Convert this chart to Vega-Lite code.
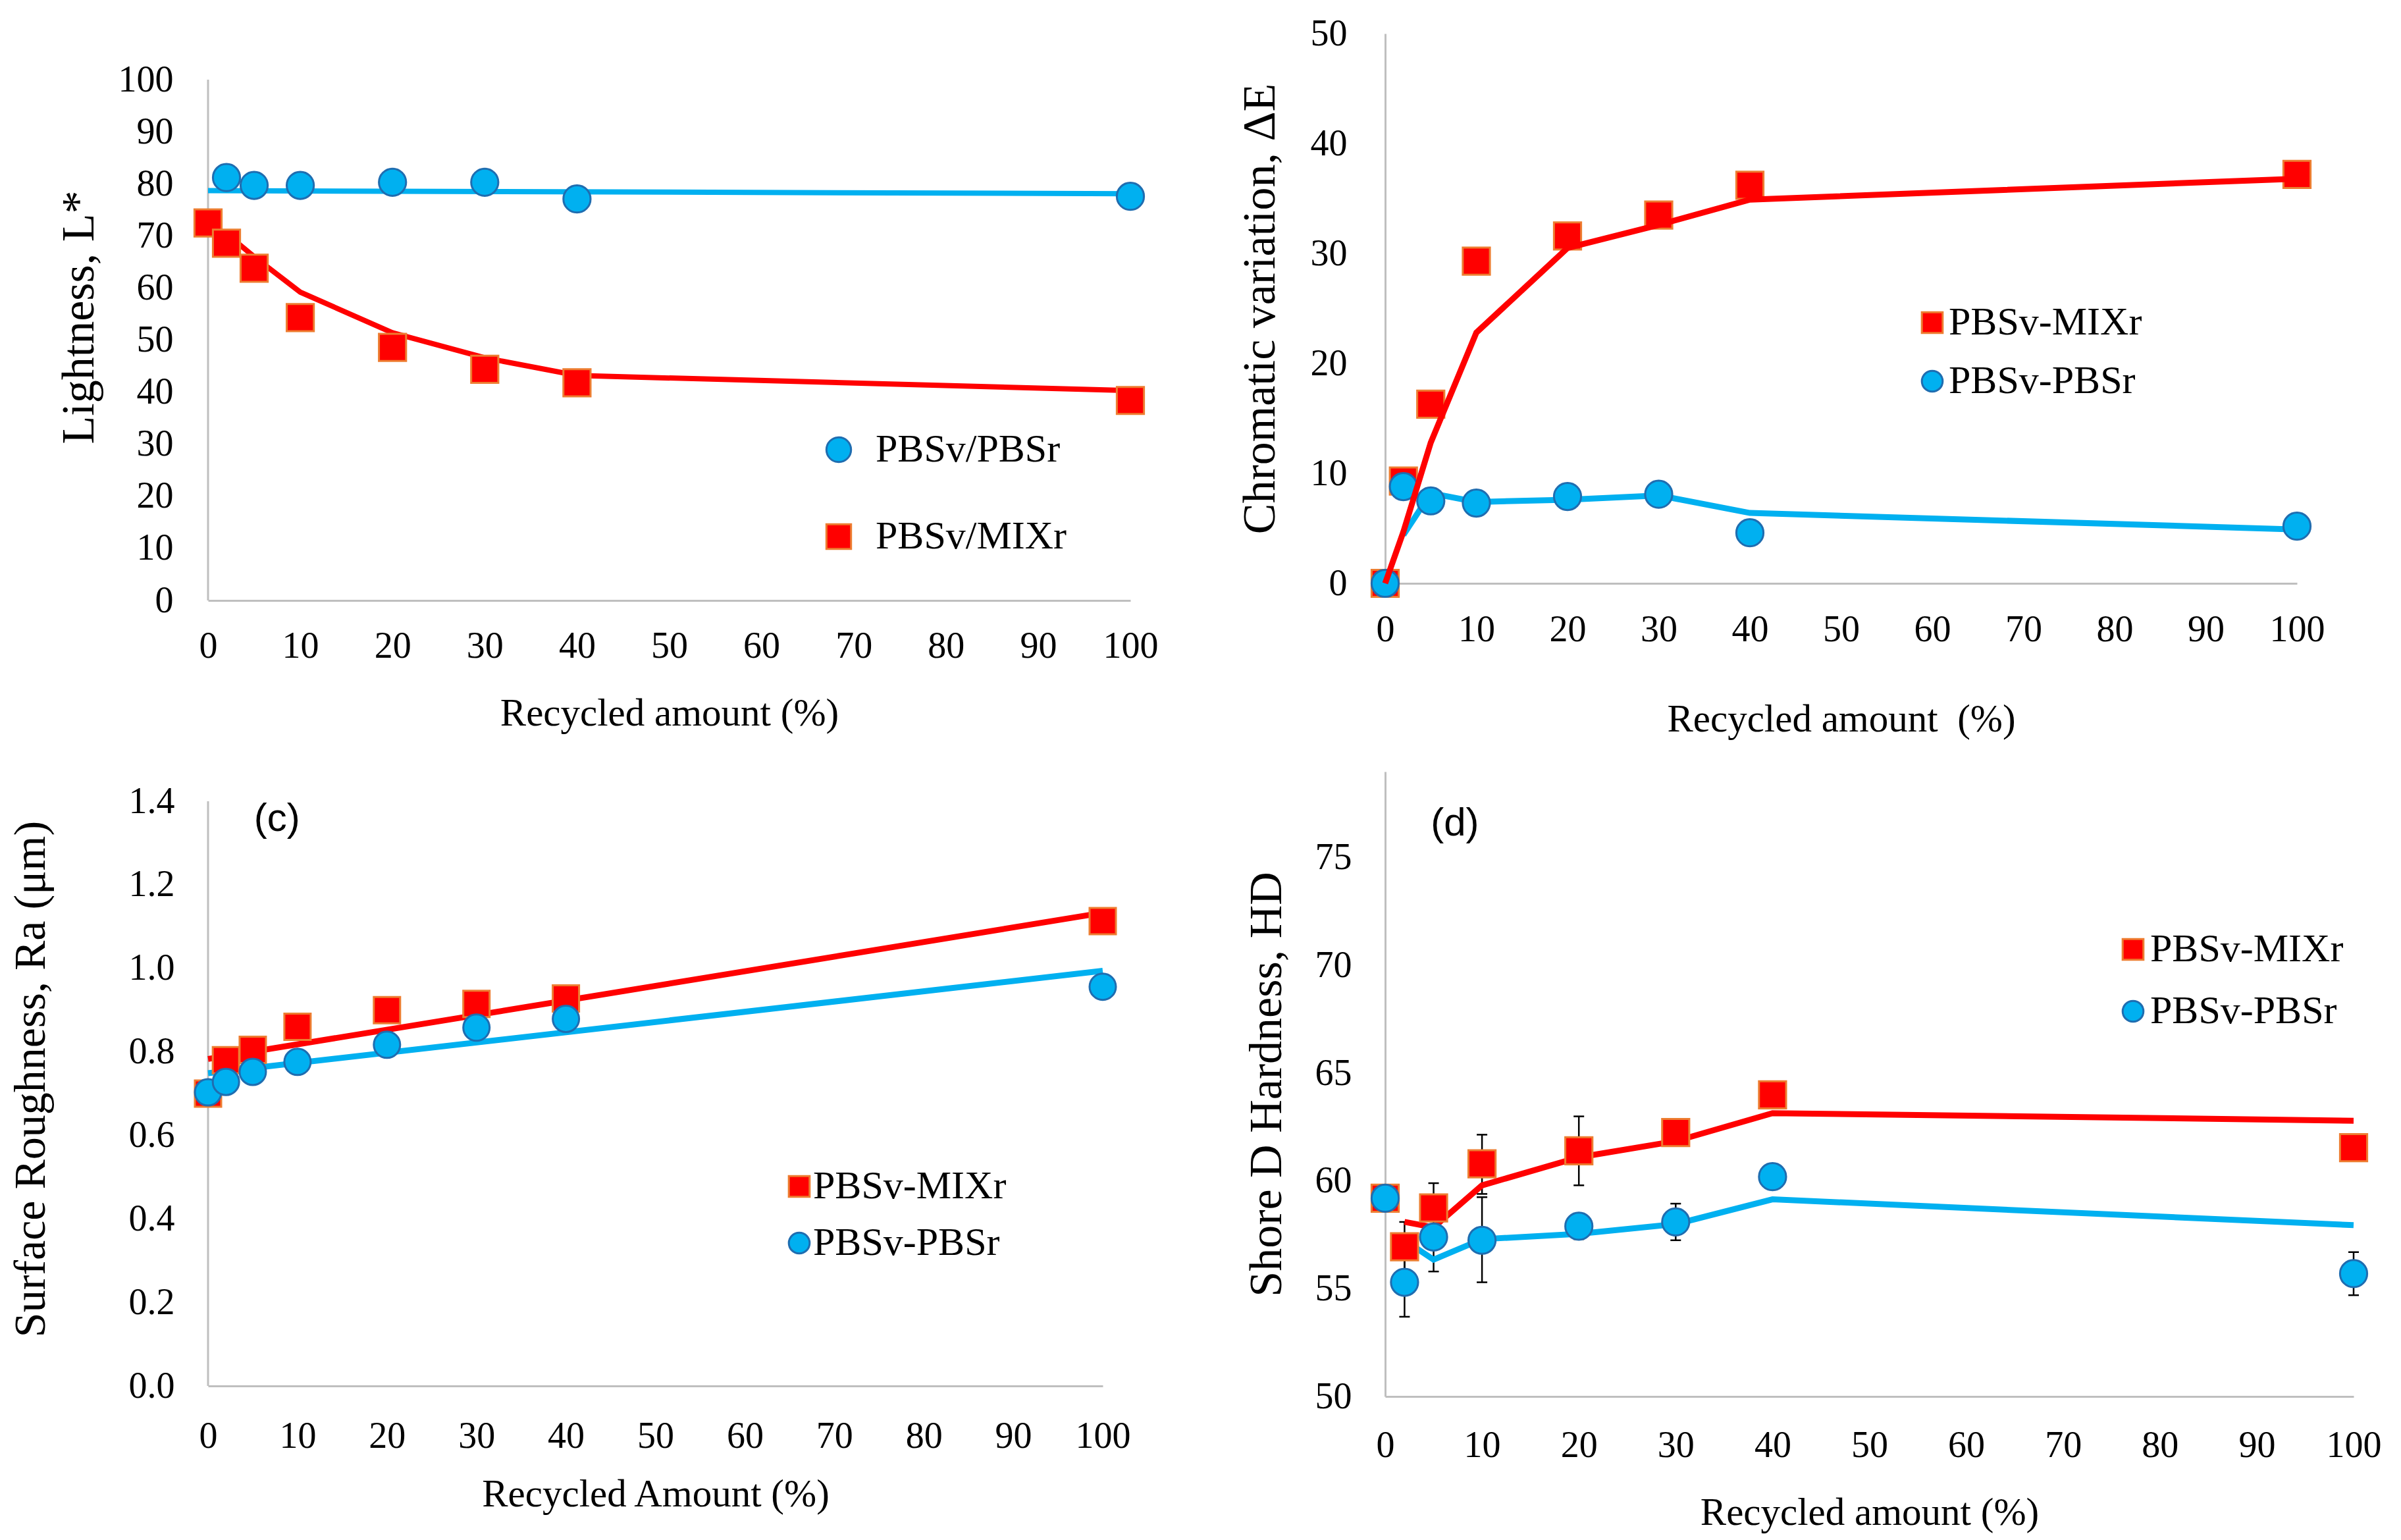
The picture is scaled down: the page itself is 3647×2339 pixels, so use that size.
{
  "$schema": "https://vega.github.io/schema/vega-lite/v6.json",
  "autosize": {"type": "none"},
  "padding": {"left": 316, "top": 51, "right": 3331, "bottom": 2288},
  "background": "white",
  "config": {
    "view": {"stroke": null},
    "axis": {
      "labelFont": "Liberation Serif", "labelFontSize": 56, "labelColor": "black",
      "titleFont": "Liberation Serif", "titleFontWeight": "normal", "titleColor": "black",
      "ticks": false, "grid": false, "domainColor": "#BFBFBF", "domainWidth": 3,
      "labelOverlap": false, "labelFlush": false
    },
    "legend": {
      "labelFont": "Liberation Serif", "labelFontSize": 60, "labelColor": "black",
      "symbolStrokeWidth": 3, "padding": 0, "labelLimit": 600, "symbolOpacity": 1
    }
  },
  "datasets": {
    "a_axis": [{"x": 0, "y": 0, "y2": 100}],
    "a_pts": [
      {"x": 0, "y": 72.5, "series": "PBSv/MIXr"},
      {"x": 2, "y": 68.6, "series": "PBSv/MIXr"},
      {"x": 5, "y": 63.8, "series": "PBSv/MIXr"},
      {"x": 10, "y": 54.3, "series": "PBSv/MIXr"},
      {"x": 20, "y": 48.6, "series": "PBSv/MIXr"},
      {"x": 30, "y": 44.4, "series": "PBSv/MIXr"},
      {"x": 40, "y": 41.8, "series": "PBSv/MIXr"},
      {"x": 100, "y": 38.4, "series": "PBSv/MIXr"},
      {"x": 2, "y": 81.2, "series": "PBSv/PBSr"},
      {"x": 5, "y": 79.7, "series": "PBSv/PBSr"},
      {"x": 10, "y": 79.7, "series": "PBSv/PBSr"},
      {"x": 20, "y": 80.3, "series": "PBSv/PBSr"},
      {"x": 30, "y": 80.3, "series": "PBSv/PBSr"},
      {"x": 40, "y": 77.1, "series": "PBSv/PBSr"},
      {"x": 100, "y": 77.6, "series": "PBSv/PBSr"}
    ],
    "a_fit_red": [
      {"x": 2, "y": 70.4},
      {"x": 5, "y": 66.0},
      {"x": 10, "y": 59.2},
      {"x": 20, "y": 51.4},
      {"x": 30, "y": 46.6},
      {"x": 40, "y": 43.2},
      {"x": 100, "y": 40.3}
    ],
    "a_fit_blue": [
      {"x": 0, "y": 78.7},
      {"x": 100, "y": 78.1}
    ],
    "b_pts": [
      {"x": 0, "y": 0, "series": "PBSv-MIXr"},
      {"x": 2, "y": 9.3, "series": "PBSv-MIXr"},
      {"x": 5, "y": 16.3, "series": "PBSv-MIXr"},
      {"x": 10, "y": 29.3, "series": "PBSv-MIXr"},
      {"x": 20, "y": 31.6, "series": "PBSv-MIXr"},
      {"x": 30, "y": 33.5, "series": "PBSv-MIXr"},
      {"x": 40, "y": 36.2, "series": "PBSv-MIXr"},
      {"x": 100, "y": 37.2, "series": "PBSv-MIXr"},
      {"x": 0, "y": 0, "series": "PBSv-PBSr"},
      {"x": 2, "y": 8.8, "series": "PBSv-PBSr"},
      {"x": 5, "y": 7.5, "series": "PBSv-PBSr"},
      {"x": 10, "y": 7.3, "series": "PBSv-PBSr"},
      {"x": 20, "y": 7.9, "series": "PBSv-PBSr"},
      {"x": 30, "y": 8.1, "series": "PBSv-PBSr"},
      {"x": 40, "y": 4.6, "series": "PBSv-PBSr"},
      {"x": 100, "y": 5.2, "series": "PBSv-PBSr"}
    ],
    "b_fit_red": [
      {"x": 0, "y": 0},
      {"x": 2, "y": 4.7},
      {"x": 5, "y": 12.8},
      {"x": 10, "y": 22.8},
      {"x": 20, "y": 30.5},
      {"x": 30, "y": 32.6},
      {"x": 40, "y": 34.9},
      {"x": 100, "y": 36.8}
    ],
    "b_fit_blue": [
      {"x": 2, "y": 4.4},
      {"x": 5, "y": 8.2},
      {"x": 10, "y": 7.4},
      {"x": 20, "y": 7.6},
      {"x": 30, "y": 8.0},
      {"x": 40, "y": 6.4},
      {"x": 100, "y": 4.9}
    ],
    "c_axis": [{"x": 0, "y": 0, "y2": 1.4}],
    "c_tag": [{"x": 7.7, "y": 1.357, "tag": "(c)"}],
    "c_pts": [
      {"x": 0, "y": 0.70, "series": "PBSv-MIXr"},
      {"x": 2, "y": 0.78, "series": "PBSv-MIXr"},
      {"x": 5, "y": 0.805, "series": "PBSv-MIXr"},
      {"x": 10, "y": 0.86, "series": "PBSv-MIXr"},
      {"x": 20, "y": 0.90, "series": "PBSv-MIXr"},
      {"x": 30, "y": 0.915, "series": "PBSv-MIXr"},
      {"x": 40, "y": 0.928, "series": "PBSv-MIXr"},
      {"x": 100, "y": 1.113, "series": "PBSv-MIXr"},
      {"x": 0, "y": 0.703, "series": "PBSv-PBSr"},
      {"x": 2, "y": 0.728, "series": "PBSv-PBSr"},
      {"x": 5, "y": 0.752, "series": "PBSv-PBSr"},
      {"x": 10, "y": 0.776, "series": "PBSv-PBSr"},
      {"x": 20, "y": 0.817, "series": "PBSv-PBSr"},
      {"x": 30, "y": 0.858, "series": "PBSv-PBSr"},
      {"x": 40, "y": 0.879, "series": "PBSv-PBSr"},
      {"x": 100, "y": 0.956, "series": "PBSv-PBSr"}
    ],
    "c_fit_red": [
      {"x": 0, "y": 0.783},
      {"x": 100, "y": 1.133}
    ],
    "c_fit_blue": [
      {"x": 0, "y": 0.749},
      {"x": 100, "y": 0.994}
    ],
    "d_tag": [{"x": 7.2, "y": 76.6, "tag": "(d)"}],
    "d_pts": [
      {"x": 0, "y": 59.2, "series": "PBSv-MIXr"},
      {"x": 2, "y": 56.95, "series": "PBSv-MIXr"},
      {"x": 5, "y": 58.75, "series": "PBSv-MIXr"},
      {"x": 10, "y": 60.8, "series": "PBSv-MIXr"},
      {"x": 20, "y": 61.4, "series": "PBSv-MIXr"},
      {"x": 30, "y": 62.25, "series": "PBSv-MIXr"},
      {"x": 40, "y": 64.0, "series": "PBSv-MIXr"},
      {"x": 100, "y": 61.55, "series": "PBSv-MIXr"},
      {"x": 0, "y": 59.2, "series": "PBSv-PBSr"},
      {"x": 2, "y": 55.3, "series": "PBSv-PBSr"},
      {"x": 5, "y": 57.4, "series": "PBSv-PBSr"},
      {"x": 10, "y": 57.25, "series": "PBSv-PBSr"},
      {"x": 20, "y": 57.9, "series": "PBSv-PBSr"},
      {"x": 30, "y": 58.1, "series": "PBSv-PBSr"},
      {"x": 40, "y": 60.2, "series": "PBSv-PBSr"},
      {"x": 100, "y": 55.7, "series": "PBSv-PBSr"}
    ],
    "d_fit_red": [
      {"x": 2, "y": 58.1},
      {"x": 5, "y": 57.85},
      {"x": 10, "y": 59.8},
      {"x": 20, "y": 61.1},
      {"x": 30, "y": 61.85},
      {"x": 40, "y": 63.15},
      {"x": 100, "y": 62.8}
    ],
    "d_fit_blue": [
      {"x": 2, "y": 57.25},
      {"x": 5, "y": 56.35},
      {"x": 10, "y": 57.3},
      {"x": 20, "y": 57.55},
      {"x": 30, "y": 58.0},
      {"x": 40, "y": 59.15},
      {"x": 100, "y": 57.95}
    ],
    "d_err": [
      {"x": 2, "y": 55.8, "y2": 58.1, "series": "PBSv-MIXr"},
      {"x": 5, "y": 57.6, "y2": 59.9, "series": "PBSv-MIXr"},
      {"x": 10, "y": 59.4, "y2": 62.15, "series": "PBSv-MIXr"},
      {"x": 20, "y": 59.8, "y2": 63.0, "series": "PBSv-MIXr"},
      {"x": 2, "y": 53.7, "y2": 56.9, "series": "PBSv-PBSr"},
      {"x": 5, "y": 55.8, "y2": 59.0, "series": "PBSv-PBSr"},
      {"x": 10, "y": 55.3, "y2": 59.25, "series": "PBSv-PBSr"},
      {"x": 20, "y": 57.3, "y2": 58.45, "series": "PBSv-PBSr"},
      {"x": 30, "y": 57.25, "y2": 58.95, "series": "PBSv-PBSr"},
      {"x": 100, "y": 54.7, "y2": 56.7, "series": "PBSv-PBSr"}
    ]
  },
  "columns": 2,
  "bounds": "flush",
  "align": "each",
  "spacing": {"row": 260, "column": 387},
  "resolve": {
    "scale": {"fill": "independent", "stroke": "independent", "shape": "independent"},
    "legend": {"fill": "independent", "stroke": "independent", "shape": "independent"}
  },
  "concat": [
    {
      "width": 1401,
      "height": 861,
      "encoding": {
        "x": {"field": "x", "type": "quantitative",
              "scale": {"domain": [0, 100], "nice": false, "zero": false},
              "axis": {"values": [0, 10, 20, 30, 40, 50, 60, 70, 80, 90, 100], "labelPadding": 42,
                       "title": "Recycled amount (%)", "titleFontSize": 59, "titlePadding": 45}},
        "y": {"field": "y", "type": "quantitative",
              "scale": {"domain": [0, 108.85], "nice": false, "zero": false},
              "axis": {"values": [0, 10, 20, 30, 40, 50, 60, 70, 80, 90, 100], "domain": false, "labelPadding": 53,
                       "title": "Lightness, L*", "titleFontSize": 70, "titlePadding": 23}}
      },
      "layer": [
        {
          "data": {"name": "a_axis"},
          "mark": {"type": "rule", "color": "#BFBFBF", "strokeWidth": 3},
          "encoding": {"y2": {"field": "y2"}}
        },
        {
          "data": {"name": "a_fit_blue"},
          "mark": {"type": "line", "strokeWidth": 8, "color": "#00B0F0"},
          "encoding": {}
        },
        {
          "data": {"name": "a_fit_red"},
          "mark": {"type": "line", "strokeWidth": 8, "color": "#FF0000"},
          "encoding": {}
        },
        {
          "data": {"name": "a_pts"},
          "mark": {"type": "point", "filled": true, "size": 1700, "strokeWidth": 3, "opacity": 1},
          "encoding": {
            "fill": {"field": "series", "type": "nominal",
                     "scale": {"domain": ["PBSv/PBSr", "PBSv/MIXr"], "range": ["#00B0F0", "#FF0000"]},
                     "legend": {"title": null, "orient": "none", "legendX": 928, "legendY": 602,
                                "symbolSize": 1400, "labelOffset": 26, "rowPadding": 72}},
            "stroke": {"field": "series", "type": "nominal",
                       "scale": {"domain": ["PBSv/PBSr", "PBSv/MIXr"], "range": ["#1F6DB0", "#ED7D31"]},
                       "legend": {"title": null, "orient": "none", "legendX": 928, "legendY": 602,
                                  "symbolSize": 1400, "labelOffset": 26, "rowPadding": 72}},
            "shape": {"field": "series", "type": "nominal",
                      "scale": {"domain": ["PBSv/PBSr", "PBSv/MIXr"], "range": ["circle", "square"]},
                      "legend": {"title": null, "orient": "none", "legendX": 928, "legendY": 602,
                                 "symbolSize": 1400, "labelOffset": 26, "rowPadding": 72}}
          }
        }
      ]
    },
    {
      "width": 1385,
      "height": 835,
      "encoding": {
        "x": {"field": "x", "type": "quantitative",
              "scale": {"domain": [0, 100], "nice": false, "zero": false},
              "axis": {"values": [0, 10, 20, 30, 40, 50, 60, 70, 80, 90, 100], "labelPadding": 43,
                       "title": "Recycled amount\u00a0 (%)", "titleFontSize": 59, "titlePadding": 79}},
        "y": {"field": "y", "type": "quantitative",
              "scale": {"domain": [0, 50], "nice": false, "zero": false},
              "axis": {"values": [0, 10, 20, 30, 40, 50], "labelPadding": 58,
                       "title": "Chromatic variation, ΔE", "titleFontSize": 70, "titlePadding": 40}}
      },
      "layer": [
        {
          "data": {"name": "b_fit_blue"},
          "mark": {"type": "line", "strokeWidth": 9, "color": "#00B0F0"},
          "encoding": {}
        },
        {
          "data": {"name": "b_pts"},
          "mark": {"type": "point", "filled": true, "size": 1700, "strokeWidth": 3, "opacity": 1},
          "encoding": {
            "fill": {"field": "series", "type": "nominal",
                     "scale": {"domain": ["PBSv-MIXr", "PBSv-PBSr"], "range": ["#FF0000", "#00B0F0"]},
                     "legend": {"title": null, "orient": "none", "legendX": 801, "legendY": 409,
                                "symbolSize": 1000, "labelOffset": -5, "rowPadding": 29}},
            "stroke": {"field": "series", "type": "nominal",
                       "scale": {"domain": ["PBSv-MIXr", "PBSv-PBSr"], "range": ["#ED7D31", "#1F6DB0"]},
                       "legend": {"title": null, "orient": "none", "legendX": 801, "legendY": 409,
                                  "symbolSize": 1000, "labelOffset": -5, "rowPadding": 29}},
            "shape": {"field": "series", "type": "nominal",
                      "scale": {"domain": ["PBSv-MIXr", "PBSv-PBSr"], "range": ["square", "circle"]},
                      "legend": {"title": null, "orient": "none", "legendX": 801, "legendY": 409,
                                 "symbolSize": 1000, "labelOffset": -5, "rowPadding": 29}}
          }
        },
        {
          "data": {"name": "b_fit_red"},
          "mark": {"type": "line", "strokeWidth": 9, "color": "#FF0000"},
          "encoding": {}
        }
      ]
    },
    {
      "width": 1359,
      "height": 933,
      "encoding": {
        "x": {"field": "x", "type": "quantitative",
              "scale": {"domain": [0, 100], "nice": false, "zero": false},
              "axis": {"values": [0, 10, 20, 30, 40, 50, 60, 70, 80, 90, 100], "labelPadding": 49,
                       "title": "Recycled Amount (%)", "titleFontSize": 59, "titlePadding": 31}},
        "y": {"field": "y", "type": "quantitative",
              "scale": {"domain": [0, 1.471], "nice": false, "zero": false},
              "axis": {"values": [0, 0.2, 0.4, 0.6, 0.8, 1.0, 1.2, 1.4], "format": ".1f", "domain": false, "labelPadding": 51,
                       "title": "Surface Roughness, Ra (μm)", "titleFontSize": 68, "titlePadding": 114}}
      },
      "layer": [
        {
          "data": {"name": "c_axis"},
          "mark": {"type": "rule", "color": "#BFBFBF", "strokeWidth": 3},
          "encoding": {"y2": {"field": "y2"}}
        },
        {
          "data": {"name": "c_tag"},
          "mark": {"type": "text", "font": "Liberation Sans", "fontSize": 60, "color": "black", "align": "center", "baseline": "middle"},
          "encoding": {"text": {"field": "tag"}}
        },
        {
          "data": {"name": "c_fit_red"},
          "mark": {"type": "line", "strokeWidth": 9, "color": "#FF0000"},
          "encoding": {}
        },
        {
          "data": {"name": "c_fit_blue"},
          "mark": {"type": "line", "strokeWidth": 9, "color": "#00B0F0"},
          "encoding": {}
        },
        {
          "data": {"name": "c_pts"},
          "mark": {"type": "point", "filled": true, "size": 1600, "strokeWidth": 3, "opacity": 1},
          "encoding": {
            "fill": {"field": "series", "type": "nominal",
                     "scale": {"domain": ["PBSv-MIXr", "PBSv-PBSr"], "range": ["#FF0000", "#00B0F0"]},
                     "legend": {"title": null, "orient": "none", "legendX": 868, "legendY": 600,
                                "symbolSize": 1000, "labelOffset": -9, "rowPadding": 26}},
            "stroke": {"field": "series", "type": "nominal",
                       "scale": {"domain": ["PBSv-MIXr", "PBSv-PBSr"], "range": ["#ED7D31", "#1F6DB0"]},
                       "legend": {"title": null, "orient": "none", "legendX": 868, "legendY": 600,
                                  "symbolSize": 1000, "labelOffset": -9, "rowPadding": 26}},
            "shape": {"field": "series", "type": "nominal",
                      "scale": {"domain": ["PBSv-MIXr", "PBSv-PBSr"], "range": ["square", "circle"]},
                      "legend": {"title": null, "orient": "none", "legendX": 868, "legendY": 600,
                                 "symbolSize": 1000, "labelOffset": -9, "rowPadding": 26}}
          }
        }
      ]
    },
    {
      "width": 1471,
      "height": 949,
      "encoding": {
        "x": {"field": "x", "type": "quantitative",
              "scale": {"domain": [0, 100], "nice": false, "zero": false},
              "axis": {"values": [0, 10, 20, 30, 40, 50, 60, 70, 80, 90, 100], "labelPadding": 47,
                       "title": "Recycled amount (%)", "titleFontSize": 59, "titlePadding": 45}},
        "y": {"field": "y", "type": "quantitative",
              "scale": {"domain": [50, 79], "nice": false, "zero": false},
              "axis": {"values": [50, 55, 60, 65, 70, 75], "labelPadding": 51,
                       "title": "Shore D Hardness, HD", "titleFontSize": 70, "titlePadding": 37}}
      },
      "layer": [
        {
          "data": {"name": "d_tag"},
          "mark": {"type": "text", "font": "Liberation Sans", "fontSize": 60, "color": "black", "align": "center", "baseline": "middle"},
          "encoding": {"text": {"field": "tag"}}
        },
        {
          "data": {"name": "d_err"},
          "mark": {"type": "rule", "color": "black", "strokeWidth": 2.5},
          "encoding": {"y2": {"field": "y2"}}
        },
        {
          "data": {"name": "d_err"},
          "mark": {"type": "tick", "orient": "horizontal", "color": "black", "size": 16, "thickness": 2.5, "opacity": 1}
        },
        {
          "data": {"name": "d_err"},
          "mark": {"type": "tick", "orient": "horizontal", "color": "black", "size": 16, "thickness": 2.5, "opacity": 1},
          "encoding": {"y": {"field": "y2", "type": "quantitative"}}
        },
        {
          "data": {"name": "d_fit_red"},
          "mark": {"type": "line", "strokeWidth": 9, "color": "#FF0000"},
          "encoding": {}
        },
        {
          "data": {"name": "d_fit_blue"},
          "mark": {"type": "line", "strokeWidth": 9, "color": "#00B0F0"},
          "encoding": {}
        },
        {
          "data": {"name": "d_pts"},
          "mark": {"type": "point", "filled": true, "size": 1700, "strokeWidth": 3, "opacity": 1},
          "encoding": {
            "fill": {"field": "series", "type": "nominal",
                     "scale": {"domain": ["PBSv-MIXr", "PBSv-PBSr"], "range": ["#FF0000", "#00B0F0"]},
                     "legend": {"title": null, "orient": "none", "legendX": 1106, "legendY": 240,
                                "symbolSize": 1000, "labelOffset": -4, "rowPadding": 34}},
            "stroke": {"field": "series", "type": "nominal",
                       "scale": {"domain": ["PBSv-MIXr", "PBSv-PBSr"], "range": ["#ED7D31", "#1F6DB0"]},
                       "legend": {"title": null, "orient": "none", "legendX": 1106, "legendY": 240,
                                  "symbolSize": 1000, "labelOffset": -4, "rowPadding": 34}},
            "shape": {"field": "series", "type": "nominal",
                      "scale": {"domain": ["PBSv-MIXr", "PBSv-PBSr"], "range": ["square", "circle"]},
                      "legend": {"title": null, "orient": "none", "legendX": 1106, "legendY": 240,
                                 "symbolSize": 1000, "labelOffset": -4, "rowPadding": 34}}
          }
        }
      ]
    }
  ]
}
